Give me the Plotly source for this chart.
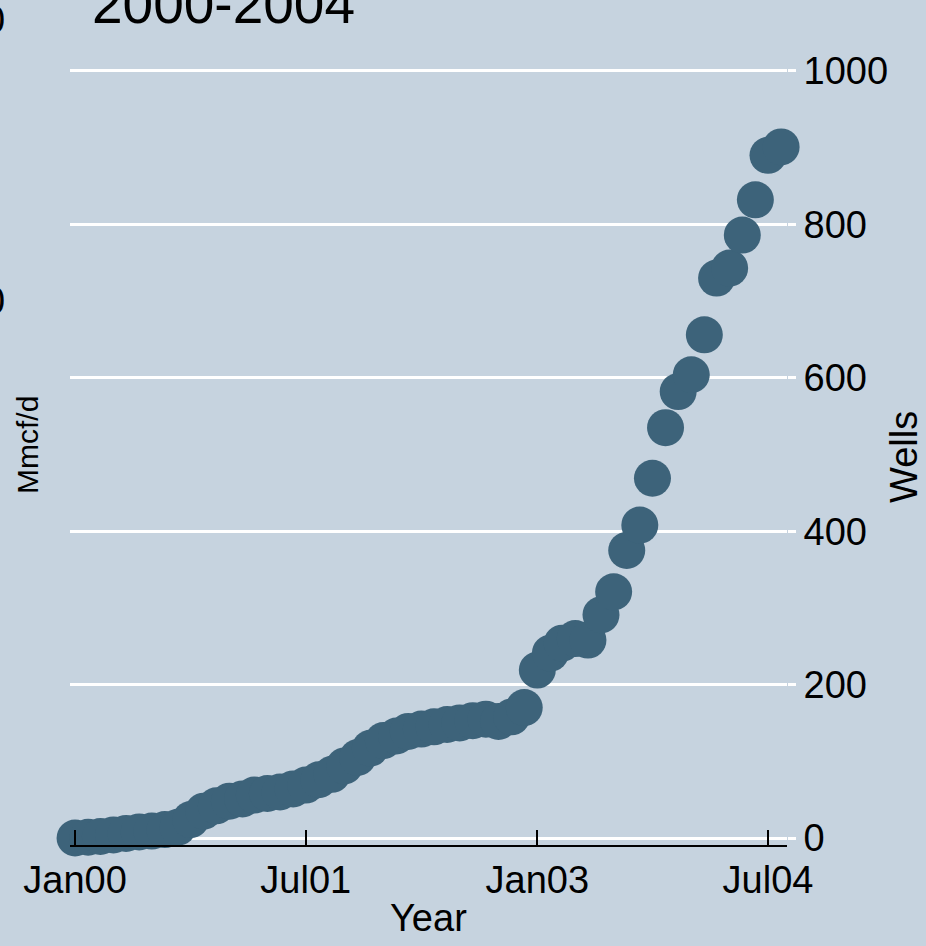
import pandas as pd
import plotly.graph_objects as go

# ---- data ----
months = pd.date_range("2000-01-01", periods=56, freq="MS")
wells = [0, 1, 2, 4, 6, 8, 9, 11, 14, 24,
         35, 42, 48, 51, 56, 58, 60, 64, 69, 76,
         83, 94, 105, 117, 127, 133, 139, 142, 145, 148,
         150, 153, 155, 152, 158, 170, 219, 241, 254, 260,
         258, 291, 321, 375, 408, 469, 535, 582, 604, 656,
         730, 743, 786, 832, 890, 901]
x_tick_vals = ["2000-01-01", "2001-07-01", "2003-01-01", "2004-07-01"]
x_tick_text = ["Jan00", "Jul01", "Jan03", "Jul04"]
y_tick_vals = [0, 200, 400, 600, 800, 1000]
y_tick_text = ["0", "200", "400", "600", "800", "1000"]

BG = "#c6d3df"
MARK = "#3d637a"
FONT = "Liberation Sans, Arial, Helvetica, sans-serif"

W, H = 926, 946
L, R, T, B = 70, 139, 60, 101
pw, ph = W - L - R, H - T - B

def px(xp):
    return (xp - L) / pw

def py(yp):
    return (H - B - yp) / ph

fig = go.Figure()
fig.add_trace(go.Scatter(
    x=months, y=wells, mode="markers",
    marker=dict(size=37, color=MARK, line=dict(width=0)),
    cliponaxis=False, showlegend=False, hoverinfo="skip",
))

fig.update_layout(
    width=W, height=H,
    margin=dict(l=L, r=R, t=T, b=B, pad=0),
    paper_bgcolor=BG, plot_bgcolor=BG,
    font=dict(family=FONT, size=38, color="black"),
    showlegend=False,
    xaxis=dict(
        range=["1999-12-20", "2004-08-15"],
        tickvals=x_tick_vals, ticktext=x_tick_text,
        ticks="inside", ticklen=15, tickwidth=1.5, tickcolor="black",
        showline=True, linecolor="black", linewidth=2,
        showgrid=False, zeroline=False, layer="above traces",
        tickfont=dict(size=38),
    ),
    yaxis=dict(
        range=[-9.1, 1014.3], side="right",
        tickvals=y_tick_vals, ticktext=y_tick_text,
        ticks="outside", ticklen=8, tickwidth=2.5, tickcolor="white",
        showline=False, showgrid=True, gridcolor="white", gridwidth=3,
        zeroline=False, ticklabelstandoff=0,
        tickfont=dict(size=38),
    ),
)

ann = [
    dict(text="2000-2004", x=px(90), y=py(4), xanchor="left", yanchor="middle", font=dict(size=55)),
    dict(text="Year", x=px(428), y=py(918), xanchor="center", yanchor="middle", font=dict(size=38)),
    dict(text="Wells", x=px(904), y=py(457), xanchor="center", yanchor="middle", textangle=-90, font=dict(size=38)),
    dict(text="Mmcf/d", x=px(27), y=py(445), xanchor="center", yanchor="middle", textangle=-90, font=dict(size=30)),
    dict(text="0", x=px(7), y=py(20), xanchor="right", yanchor="middle", font=dict(size=38)),
    dict(text="0", x=px(7), y=py(301), xanchor="right", yanchor="middle", font=dict(size=38)),
]
for a in ann:
    a.update(xref="paper", yref="paper", showarrow=False)
fig.update_layout(annotations=ann)

fig.write_html("out.html",
               config={"displayModeBar": False},
               post_script="document.body.style.margin='0px';document.body.style.overflow='hidden';")
